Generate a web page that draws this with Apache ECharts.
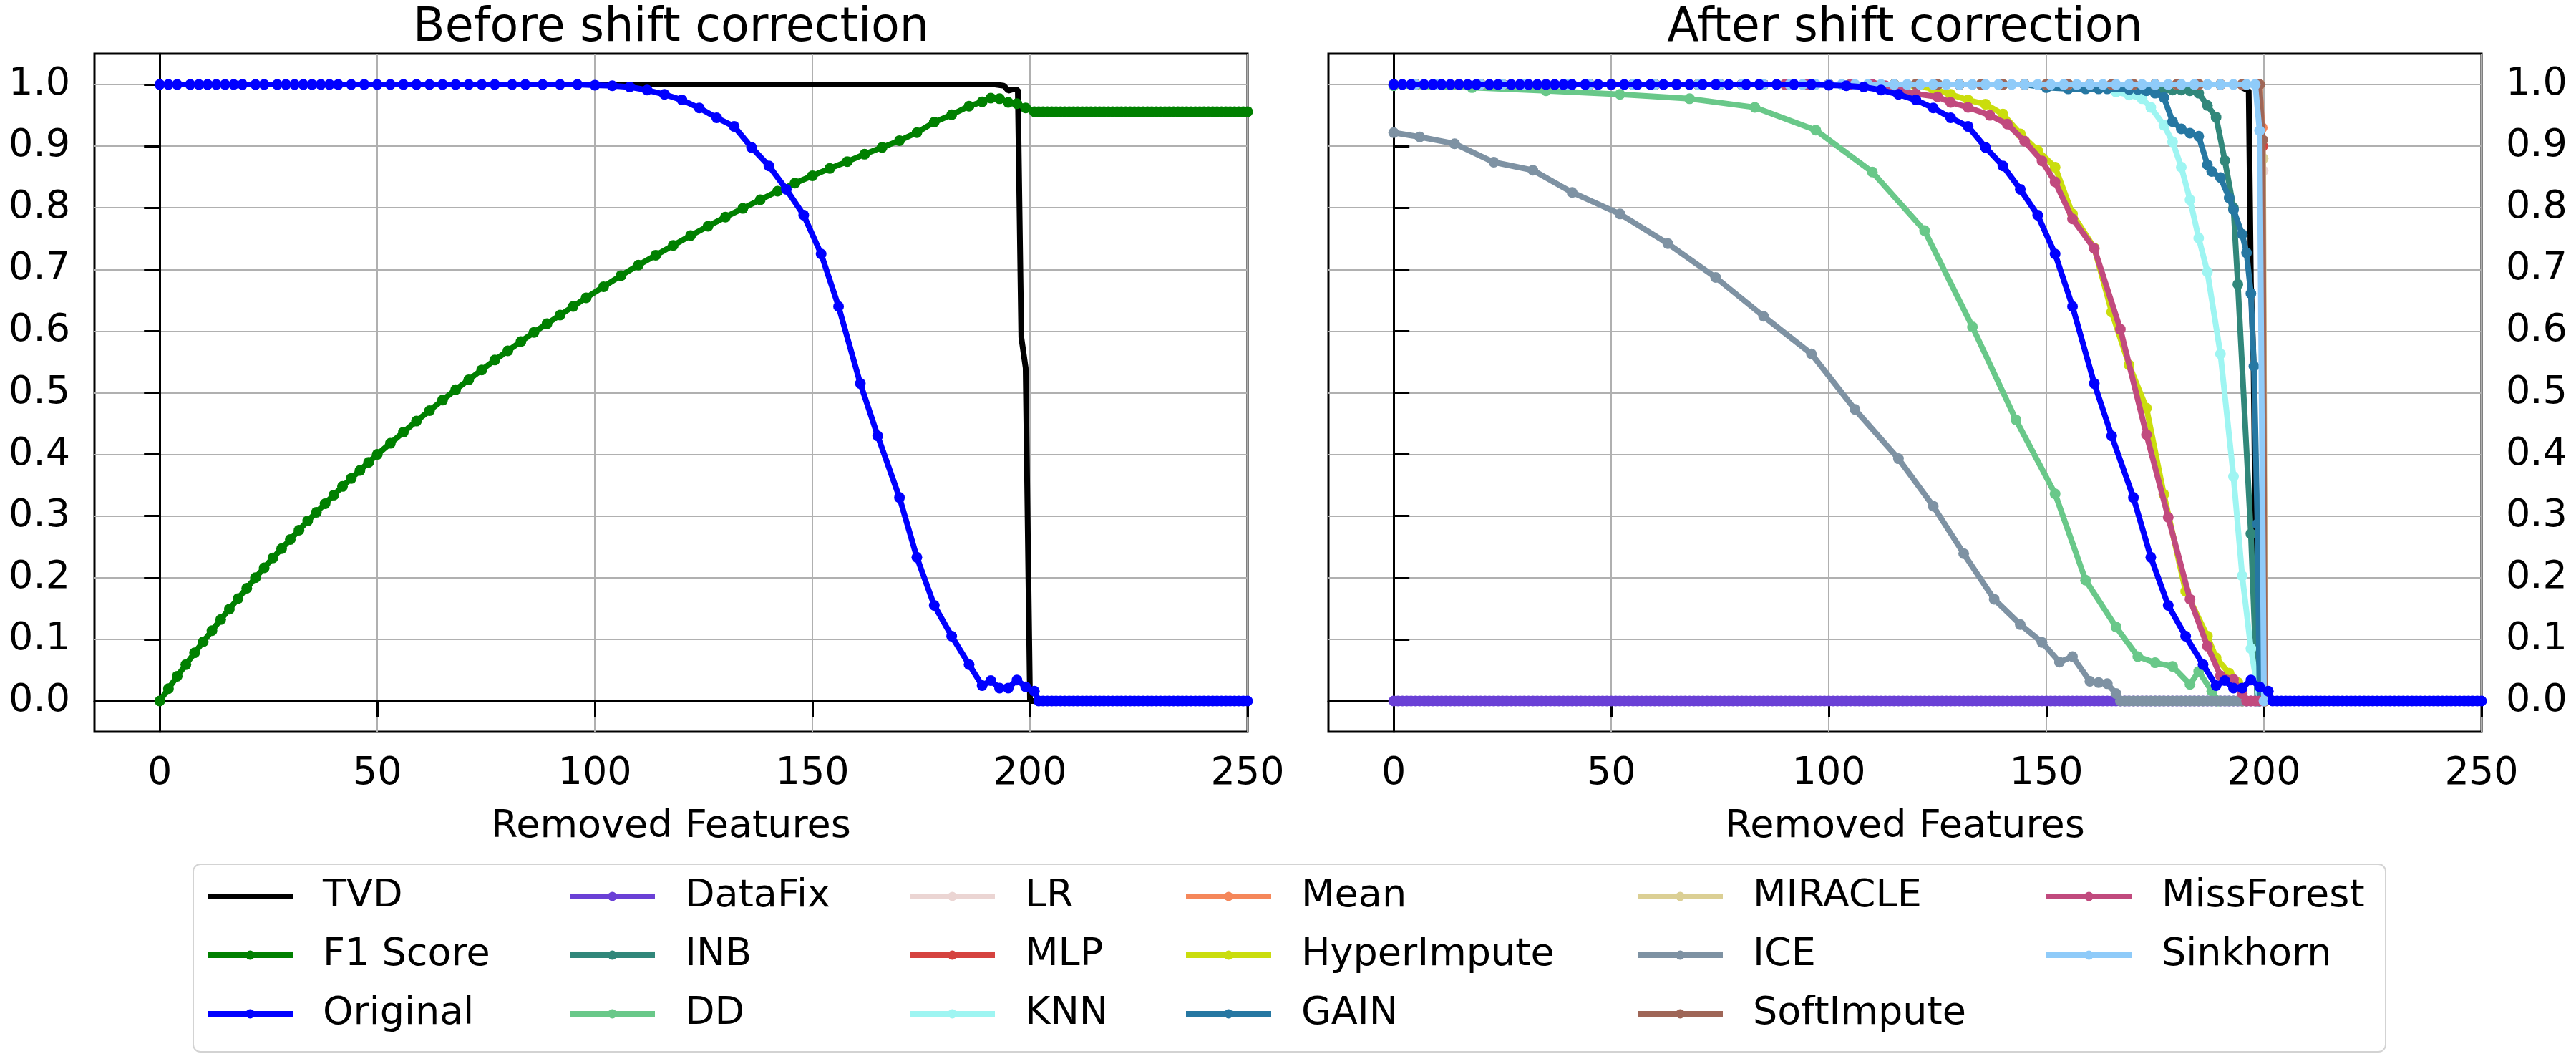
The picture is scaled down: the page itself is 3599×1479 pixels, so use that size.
<!DOCTYPE html>
<html>
<head>
<meta charset="utf-8">
<title>Before / After shift correction</title>
<script src="https://cdn.jsdelivr.net/npm/echarts@6/dist/echarts.min.js"></script>
<style>
  html, body { margin: 0; padding: 0; background: #fff; }
  #chart { width: 3599px; height: 1479px; }
</style>
</head>
<body>
<div id="chart"></div>
<script>
var FONT = 'DejaVu Sans';

// tick labels
var xTicks = [0, 50, 100, 150, 200, 250];
var yTicks = [0, 0.1, 0.2, 0.3, 0.4, 0.5, 0.6, 0.7, 0.8, 0.9, 1.0];

// ---- left panel: before shift correction ----
var tvdBefore = [[0,1],[192,1],[194,0.998],[195,0.99],[196,0.992],[197.2,0.992],[198,0.59],[199,0.54],[200,0],[250,0]];

var f1Score = [
  [0,0],[2,0.02],[4,0.04],[6,0.059],[8,0.078],[10,0.096],[12,0.114],[14,0.132],[16,0.149],[18,0.166],
  [20,0.183],[22,0.2],[24,0.216],[26,0.232],[28,0.247],[30,0.262],[32,0.277],[34,0.292],[36,0.306],[38,0.32],
  [40,0.334],[42,0.348],[44,0.361],[46,0.374],[48,0.387],[50,0.4],[53,0.418],[56,0.436],[59,0.454],[62,0.471],
  [65,0.488],[68,0.505],[71,0.521],[74,0.537],[77,0.553],[80,0.568],[83,0.583],[86,0.598],[89,0.612],[92,0.626],
  [95,0.64],[98,0.654],[102,0.672],[106,0.69],[110,0.707],[114,0.723],[118,0.739],[122,0.755],[126,0.77],[130,0.785],
  [134,0.799],[138,0.813],[142,0.827],[146,0.84],[150,0.852],[154,0.864],[158,0.875],[162,0.887],[166,0.898],[170,0.909],
  [174,0.922],[178,0.939],[182,0.951],[186,0.965],[189,0.972],[191,0.978],[193,0.977],[195,0.971],[197,0.969],[199,0.962],
  [201,0.956],[202,0.956],[203,0.956],[204,0.956],[205,0.956],[206,0.956],[207,0.956],[208,0.956],[209,0.956],[210,0.956],
  [211,0.956],[212,0.956],[213,0.956],[214,0.956],[215,0.956],[216,0.956],[217,0.956],[218,0.956],[219,0.956],[220,0.956],
  [221,0.956],[222,0.956],[223,0.956],[224,0.956],[225,0.956],[226,0.956],[227,0.956],[228,0.956],[229,0.956],[230,0.956],
  [231,0.956],[232,0.956],[233,0.956],[234,0.956],[235,0.956],[236,0.956],[237,0.956],[238,0.956],[239,0.956],[240,0.956],
  [241,0.956],[242,0.956],[243,0.956],[244,0.956],[245,0.956],[246,0.956],[247,0.956],[248,0.956],[249,0.956],[250,0.956]
];

// the original model (same in both panels)
var original = [
  [0,1],[2,1],[4,1],[7,1],[9,1],[11,1],[13,1],[15,1],[17,1],[19,1],
  [22,1],[24,1],[27,1],[29,1],[31,1],[33,1],[35,1],[37,1],[39,1],[41,1],
  [44,1],[47,1],[50,1],[53,1],[56,1],[59,1],[62,1],[65,1],[68,1],[71,1],
  [74,1],[77,1],[81,1],[84,1],[88,1],[92,1],[96,1],
  [100,0.999],[104,0.998],[108,0.996],[112,0.991],[116,0.984],[120,0.975],[124,0.962],[128,0.946],[132,0.932],[136,0.898],
  [140,0.868],[144,0.83],[148,0.788],[152,0.725],[156,0.64],[161,0.515],[165,0.43],[170,0.33],[174,0.233],[178,0.155],
  [182,0.105],[186,0.059],[189,0.025],[191,0.033],[193,0.021],[195,0.021],[197,0.034],[199,0.023],[201,0.016],
  [202,0],[203,0],[204,0],[205,0],[206,0],[207,0],[208,0],[209,0],[210,0],
  [211,0],[212,0],[213,0],[214,0],[215,0],[216,0],[217,0],[218,0],[219,0],[220,0],
  [221,0],[222,0],[223,0],[224,0],[225,0],[226,0],[227,0],[228,0],[229,0],[230,0],
  [231,0],[232,0],[233,0],[234,0],[235,0],[236,0],[237,0],[238,0],[239,0],[240,0],
  [241,0],[242,0],[243,0],[244,0],[245,0],[246,0],[247,0],[248,0],[249,0],[250,0]
];

// ---- right panel: after shift correction ----
var tvdAfter = [[0,1],[194,1],[195,0.995],[196.5,0.99],[197,0.68],[197.6,0.55],[198.5,0],[250,0]];

// plateau at 1.0 shared by the imputers that stay perfect until ~200
var topRun = [
  [0,1],[5,1],[10,1],[15,1],[20,1],[25,1],[30,1],[35,1],[40,1],[45,1],
  [50,1],[55,1],[60,1],[65,1],[70,1],[75,1],[80,1],[85,1],[90,1],[95,1],
  [100,1],[105,1],[110,1],[115,1],[120,1],[125,1],[130,1],[135,1],[140,1],[145,1],
  [150,1],[155,1],[160,1],[165,1],[170,1],[175,1],[180,1],[185,1],[190,1],[195,1]
];

var dataFix = [
  [0,0],[1,0],[2,0],[3,0],[4,0],[5,0],[6,0],[7,0],[8,0],[9,0],
  [10,0],[11,0],[12,0],[13,0],[14,0],[15,0],[16,0],[17,0],[18,0],[19,0],
  [20,0],[21,0],[22,0],[23,0],[24,0],[25,0],[26,0],[27,0],[28,0],[29,0],
  [30,0],[31,0],[32,0],[33,0],[34,0],[35,0],[36,0],[37,0],[38,0],[39,0],
  [40,0],[41,0],[42,0],[43,0],[44,0],[45,0],[46,0],[47,0],[48,0],[49,0],
  [50,0],[51,0],[52,0],[53,0],[54,0],[55,0],[56,0],[57,0],[58,0],[59,0],
  [60,0],[61,0],[62,0],[63,0],[64,0],[65,0],[66,0],[67,0],[68,0],[69,0],
  [70,0],[71,0],[72,0],[73,0],[74,0],[75,0],[76,0],[77,0],[78,0],[79,0],
  [80,0],[81,0],[82,0],[83,0],[84,0],[85,0],[86,0],[87,0],[88,0],[89,0],
  [90,0],[91,0],[92,0],[93,0],[94,0],[95,0],[96,0],[97,0],[98,0],[99,0],
  [100,0],[101,0],[102,0],[103,0],[104,0],[105,0],[106,0],[107,0],[108,0],[109,0],
  [110,0],[111,0],[112,0],[113,0],[114,0],[115,0],[116,0],[117,0],[118,0],[119,0],
  [120,0],[121,0],[122,0],[123,0],[124,0],[125,0],[126,0],[127,0],[128,0],[129,0],
  [130,0],[131,0],[132,0],[133,0],[134,0],[135,0],[136,0],[137,0],[138,0],[139,0],
  [140,0],[141,0],[142,0],[143,0],[144,0],[145,0],[146,0],[147,0],[148,0],[149,0],
  [150,0],[151,0],[152,0],[153,0],[154,0],[155,0],[156,0],[157,0],[158,0],[159,0],
  [160,0],[161,0],[162,0],[163,0],[164,0],[165,0],[166,0],[167,0],[168,0],[169,0],
  [170,0],[171,0],[172,0],[173,0],[174,0],[175,0],[176,0],[177,0],[178,0],[179,0],
  [180,0],[181,0],[182,0],[183,0],[184,0],[185,0],[186,0],[187,0],[188,0],[189,0],
  [190,0],[191,0],[192,0],[193,0],[194,0],[195,0],[196,0],[197,0],[198,0],[199,0],[200,0]
];

var inbTail = [[177,0.992],[179,0.991],[181,0.991],[183,0.99],[185,0.986],[187,0.966],[189,0.947],[191,0.877],[193,0.8],[194,0.676],[197,0.271],[198.5,0]];

var dd = [[0,0.998],[18,0.995],[35,0.99],[52,0.984],[68,0.977],[83,0.963],[97,0.926],[110,0.858],[122,0.763],[133,0.607],
  [143,0.456],[152,0.336],[159,0.196],[166,0.12],[171,0.072],[175,0.062],[179,0.056],[183,0.027],[185,0.048],[188,0.016],[189.5,0]];

var lrTail = [[199,1],[199.8,0.86],[200.3,0]];
var mlpTail = [[199,1],[199.7,0.9],[200.2,0]];
var meanTail = [[199,1],[199.6,0.93],[200.2,0]];
var miracleTail = [[199,1],[199.8,0.88],[200.3,0]];
var softImputeTail = [[199,1],[199.7,0.91],[200.2,0]];

var knnTail = [[163,0.998],[166,0.988],[169,0.983],[172,0.977],[174,0.963],[177,0.934],[179,0.907],[181,0.866],[183,0.813],[185,0.751],
  [187,0.696],[190,0.563],[193,0.364],[195,0.203],[197,0.085],[199,0]];

var gainTail = [[150,0.995],[155,0.993],[159,0.993],[162,0.993],[164,0.993],[169,0.992],[171,0.992],[173,0.99],[175,0.986],[177,0.979],
  [179,0.94],[181,0.928],[183,0.921],[185,0.916],[187,0.87],[188,0.859],[190,0.849],[192,0.816],[193,0.797],[195,0.757],
  [196,0.727],[197,0.661],[197.7,0.543],[198.5,0.287],[199,0]];

var hyperImputeTail = [[120,0.998],[124,0.993],[128,0.984],[132,0.975],[136,0.968],[140,0.952],[144,0.92],[148,0.893],[152,0.866],[156,0.79],
  [161,0.735],[165,0.631],[169,0.545],[173,0.475],[177,0.335],[182,0.178],[187,0.105],[189,0.07],[192,0.045],[194,0.03],[195,0]];

var missForestTail = [[113,0.998],[117,0.991],[120,0.985],[125,0.98],[128,0.971],[132,0.963],[137,0.95],[141,0.936],[145,0.908],[149,0.876],
  [152,0.842],[156,0.782],[161,0.734],[167,0.603],[173,0.432],[178,0.298],[183,0.165],[187,0.089],[190,0.041],[193,0.035],
  [195,0.012],[196,0],[197,0],[198,0],[199,0]];

var ice = [[0,0.922],[6,0.915],[14,0.904],[23,0.874],[32,0.861],[41,0.825],[52,0.79],[63,0.742],[74,0.687],[85,0.624],
  [96,0.563],[106,0.473],[116,0.393],[124,0.316],[131,0.239],[138,0.165],[144,0.124],[149,0.095],[153,0.063],[156,0.072],
  [160,0.032],[162,0.03],[164,0.028],[166,0.012],
  [167,0],[168,0],[169,0],[170,0],[171,0],[172,0],[173,0],[174,0],[175,0],[176,0],
  [177,0],[178,0],[179,0],[180,0],[181,0],[182,0],[183,0],[184,0],[185,0],[186,0],
  [187,0],[188,0],[189,0],[190,0],[191,0],[192,0],[193,0],[194,0],[195,0],[196,0]];

var sinkhornTail = [[88,1],[91,1],[94,1],[97,1],[100,1],[103,1],[106,1],[109,1],[112,1],[115,1],
  [118,1],[121,1],[124,1],[127,1],[130,1],[133,1],[136,1],[139,1],[142,1],[145,1],
  [148,1],[151,1],[154,1],[157,1],[160,1],[163,1],[166,1],[169,1],[172,1],[175,1],
  [178,1],[181,1],[184,1],[187,1],[190,1],[193,1],[196,1],[198,1],[199,0.925],[200,0]];

function upTo(x) {
  return topRun.filter(function (p) { return p[0] <= x; });
}

var colors = {
  'TVD': '#000000', 'F1 Score': '#008000', 'Original': '#0000ff',
  'DataFix': '#6a40d6', 'INB': '#31877a', 'DD': '#69c889',
  'LR': '#ebd5d3', 'MLP': '#d5433f', 'KNN': '#9ef5f2',
  'Mean': '#f5875a', 'HyperImpute': '#cadd0d', 'GAIN': '#2677a2',
  'MIRACLE': '#dbcf94', 'ICE': '#7e92a3', 'SoftImpute': '#9f6657',
  'MissForest': '#c14a7e', 'Sinkhorn': '#8fcbf9'
};

var z = 2;
function line(name, data, panel, noSymbol) {
  z += 1;
  return {
    type: 'line', name: name, data: data,
    xAxisIndex: panel, yAxisIndex: panel, z: z,
    symbol: noSymbol ? 'none' : 'circle', symbolSize: 15, showSymbol: !noSymbol,
    lineStyle: { color: colors[name], width: 8 },
    itemStyle: { color: colors[name], borderWidth: 0 },
    emphasis: { disabled: true }, animation: false
  };
}

var series = [
  line('TVD', tvdBefore, 0, true),
  line('F1 Score', f1Score, 0),
  line('Original', original, 0),

  line('TVD', tvdAfter, 1, true),
  line('DataFix', dataFix, 1),
  line('INB', upTo(175).concat(inbTail), 1),
  line('DD', dd, 1),
  line('LR', topRun.concat(lrTail), 1),
  line('MLP', topRun.concat(mlpTail), 1),
  line('KNN', upTo(160).concat(knnTail), 1),
  line('Mean', topRun.concat(meanTail), 1),
  line('HyperImpute', upTo(115).concat(hyperImputeTail), 1),
  line('GAIN', upTo(145).concat(gainTail), 1),
  line('MIRACLE', topRun.concat(miracleTail), 1),
  line('ICE', ice, 1),
  line('SoftImpute', topRun.concat(softImputeTail), 1),
  line('MissForest', upTo(110).concat(missForestTail), 1),
  line('Sinkhorn', upTo(85).concat(sinkhornTail), 1),
  line('Original', original, 1)
];

var legendCols = [
  ['TVD', 'F1 Score', 'Original'],
  ['DataFix', 'INB', 'DD'],
  ['LR', 'MLP', 'KNN'],
  ['Mean', 'HyperImpute', 'GAIN'],
  ['MIRACLE', 'ICE', 'SoftImpute'],
  ['MissForest', 'Sinkhorn']
];
var legendLeft = [286, 792, 1267, 1653, 2284, 2855];

function xAxis(i) {
  return {
    type: 'value', gridIndex: i, min: -15, max: 250, splitNumber: 5,
    name: 'Removed Features', nameLocation: 'middle', nameGap: 106,
    nameTextStyle: { fontSize: 54, fontFamily: FONT, color: '#000' },
    axisLine: { show: true, lineStyle: { color: '#000', width: 3 } },
    axisTick: { show: true, customValues: xTicks, length: 22, lineStyle: { color: '#000', width: 3 } },
    axisLabel: { customValues: xTicks, fontSize: 54, fontFamily: FONT, color: '#000', margin: 32 },
    splitLine: { show: true, lineStyle: { color: '#b0b0b0', width: 2 } }
  };
}
function yAxis(i) {
  return {
    type: 'value', gridIndex: i, min: -0.05, max: 1.05, splitNumber: 11,
    position: i === 0 ? 'left' : 'right',
    axisLine: { show: true, lineStyle: { color: '#000', width: 3 } },
    axisTick: { show: true, customValues: yTicks, length: 22, lineStyle: { color: '#000', width: 3 } },
    axisLabel: {
      customValues: yTicks, fontSize: 54, fontFamily: FONT, color: '#000', margin: 34,
      formatter: function (v) { return v.toFixed(1); }
    },
    splitLine: { show: true, lineStyle: { color: '#b0b0b0', width: 2 } }
  };
}

var chart = echarts.init(document.getElementById('chart'));
chart.setOption({
  animation: false,
  backgroundColor: '#ffffff',
  textStyle: { fontFamily: FONT },
  title: [
    { text: 'Before shift correction', left: 937.5, top: 8, padding: 0, textAlign: 'center',
      textStyle: { fontSize: 65, fontWeight: 'normal', color: '#000', fontFamily: FONT } },
    { text: 'After shift correction', left: 2661.5, top: 8, padding: 0, textAlign: 'center',
      textStyle: { fontSize: 65, fontWeight: 'normal', color: '#000', fontFamily: FONT } }
  ],
  grid: [
    { left: 132, top: 75, width: 1611, height: 947, show: true, borderColor: '#000', borderWidth: 3, backgroundColor: 'transparent' },
    { left: 1856, top: 75, width: 1611, height: 947, show: true, borderColor: '#000', borderWidth: 3, backgroundColor: 'transparent' }
  ],
  xAxis: [xAxis(0), xAxis(1)],
  yAxis: [yAxis(0), yAxis(1)],
  legend: legendCols.map(function (names, i) {
    return {
      orient: 'vertical', left: legendLeft[i], top: 1222, padding: 0,
      itemGap: 22, itemWidth: 119, itemHeight: 16, selectedMode: false,
      data: names.map(function (n) {
        return n === 'TVD' ? { name: n, icon: 'path://M0,0H119V8H0Z' } : n;
      }),
      lineStyle: { width: 8 },
      textStyle: { fontSize: 54, fontFamily: FONT, color: '#000', lineHeight: 60, padding: [0, 0, 0, 37] }
    };
  }),
  graphic: [{
    type: 'rect', z: 0,
    shape: { x: 270, y: 1207, width: 3063, height: 262, r: 10 },
    style: { fill: '#ffffff', stroke: '#d3d3d3', lineWidth: 2 }
  }],
  series: series
});
</script>
</body>
</html>
